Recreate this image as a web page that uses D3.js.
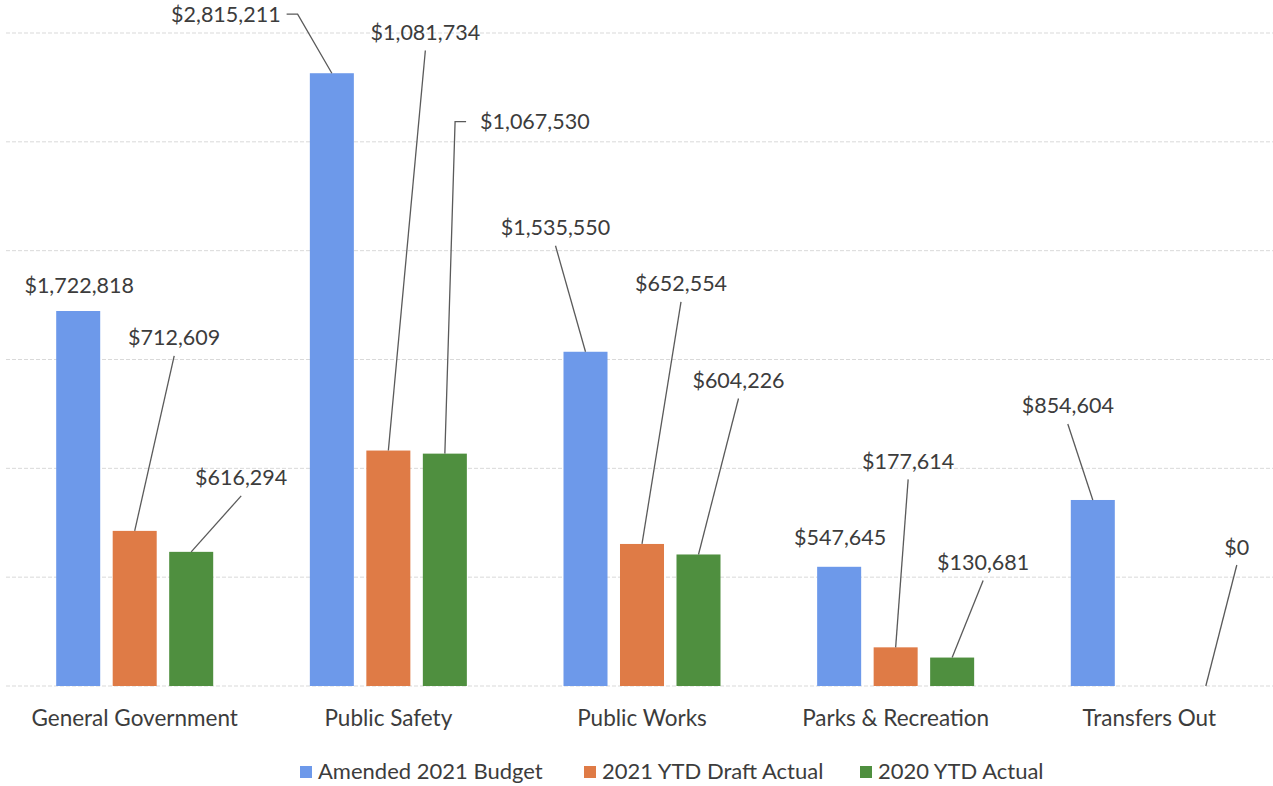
<!DOCTYPE html>
<html><head><meta charset="utf-8">
<script src="https://cdn.jsdelivr.net/npm/d3@7"></script>
<style>
html,body{margin:0;padding:0;background:#fff;}
svg{display:block;font-family:Lato,"Open Sans",sans-serif;}
</style></head>
<body>
<svg id="chart" width="1273" height="786"></svg>
<script>
const categories = ["General Government","Public Safety","Public Works","Parks & Recreation","Transfers Out"];
const seriesNames = ["Amended 2021 Budget","2021 YTD Draft Actual","2020 YTD Actual"];
const amended2021 = [1722818, 2815211, 1535550, 547645, 854604];
const draft2021 = [712609, 1081734, 652554, 177614, null];
const actual2020 = [616294, 1067530, 604226, 130681, 0];
const yTicks = [0, 500000, 1000000, 1500000, 2000000, 2500000, 3000000];

// layout of data labels: offset of label centre from bar-top centre, and leader style
const labelLayout = [
  [{dx:1,dy:-25,lead:"none"},{dx:39.5,dy:-193,lead:"below"},{dx:50,dy:-74,lead:"below"}],
  [{dx:-106,dy:-59,lead:"side",gap:6},{dx:37,dy:-418,lead:"below"},{dx:90,dy:-332,lead:"side",gap:14}],
  [{dx:-30,dy:-124,lead:"below"},{dx:39,dy:-260,lead:"below"},{dx:40,dy:-174,lead:"below"}],
  [{dx:1,dy:-29,lead:"none"},{dx:12.5,dy:-186,lead:"below"},{dx:31,dy:-95,lead:"below"}],
  [{dx:-25,dy:-94,lead:"below"},null,{dx:31,dy:-139,lead:"below"}]
];

const colors = ["#6d99ea","#df7b46","#4f8f3f"];
const textColor = "#3c3c3c";

const svg = d3.select("#chart");
const values = [amended2021, draft2021, actual2020];

const x0 = d3.scaleBand().domain(categories).range([8, 1276]).paddingInner(0.381).paddingOuter(0.19);
const x1 = d3.scaleBand().domain(seriesNames).range([0, x0.bandwidth()]).paddingInner(0.221);
const y = d3.scaleLinear().domain([0, 3000000]).range([686, 33]);

// gridlines
svg.append("g").selectAll("line").data(yTicks).join("line")
  .attr("x1", 6).attr("x2", 1273)
  .attr("y1", d => y(d)).attr("y2", d => y(d))
  .attr("stroke", "#d9d9d9").attr("stroke-width", 1)
  .attr("stroke-dasharray", "4,2");

// bars
const flat = [];
categories.forEach((c, i) => {
  seriesNames.forEach((s, j) => {
    flat.push({cat: c, ser: s, i, j, v: values[j][i]});
  });
});

svg.append("g").selectAll("rect").data(flat.filter(d => d.v !== null && d.v > 0)).join("rect")
  .attr("x", d => x0(d.cat) + x1(d.ser))
  .attr("y", d => y(d.v))
  .attr("width", x1.bandwidth())
  .attr("height", d => y(0) - y(d.v))
  .attr("fill", d => colors[d.j]);

// labels + leader lines
const fmt = v => "$" + d3.format(",")(v);
const lab = svg.append("g");
flat.forEach(d => {
  if (d.v === null) return;
  const L = labelLayout[d.i][d.j];
  if (!L) return;
  const bx = x0(d.cat) + x1(d.ser) + x1.bandwidth() / 2;
  const by = y(d.v);
  const cx = bx + L.dx, cy = by + L.dy;
  const t = lab.append("text")
    .attr("x", cx).attr("y", cy + 7.5)
    .attr("text-anchor", "middle")
    .attr("font-size", 21.5)
    .attr("fill", textColor)
    .text(fmt(d.v));
  const w = t.node().getComputedTextLength();
  if (L.lead === "below") {
    lab.append("line")
      .attr("x1", cx).attr("y1", cy + 18)
      .attr("x2", bx).attr("y2", by)
      .attr("stroke", "#5a5a5a").attr("stroke-width", 1.3);
  } else if (L.lead === "side") {
    const sgn = L.dx < 0 ? 1 : -1;
    const ex = cx + sgn * (w / 2 + L.gap);
    const kx = ex + sgn * 11;
    lab.append("path")
      .attr("d", `M${ex},${cy}L${kx},${cy}L${bx},${by}`)
      .attr("fill", "none")
      .attr("stroke", "#5a5a5a").attr("stroke-width", 1.3);
  }
});

// category labels
svg.append("g").selectAll("text").data(categories).join("text")
  .attr("x", d => x0(d) + x0.bandwidth() / 2)
  .attr("y", 726)
  .attr("text-anchor", "middle")
  .attr("font-size", 22.5)
  .attr("fill", textColor)
  .text(d => d);

// legend
const legendX = [300, 584, 860];
const lg = svg.append("g");
seriesNames.forEach((s, j) => {
  lg.append("rect").attr("x", legendX[j]).attr("y", 766).attr("width", 12).attr("height", 12).attr("fill", colors[j]);
  lg.append("text").attr("x", legendX[j] + 18).attr("y", 779)
    .attr("font-size", 22).attr("fill", textColor).text(s);
});
</script>
</body></html>
